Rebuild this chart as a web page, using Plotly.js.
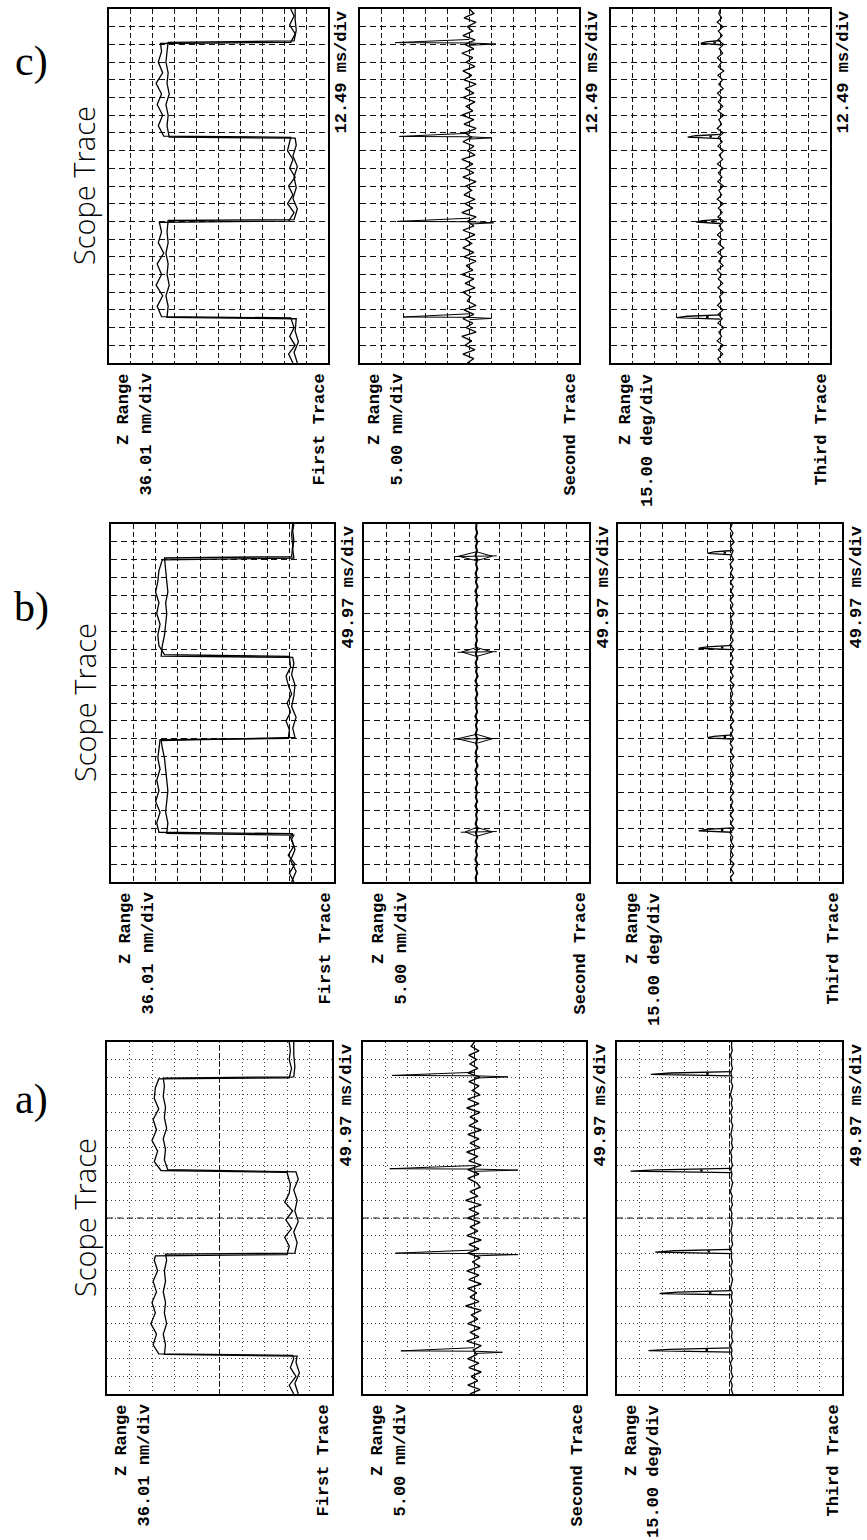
<!DOCTYPE html>
<html><head><meta charset="utf-8">
<script src="https://cdn.plot.ly/plotly-3.0.1.min.js"></script>
<style>html,body{margin:0;padding:0;background:#fff}</style>
</head><body><div id="chart" style="width:867px;height:1540px"></div>
<script>
// ---------- DATA (time in divisions, signal in divisions) ----------
const sampleT = [0,0.25,0.5,0.75,1,1.25,1.5,1.75,2,2.25,2.5,2.75,3,3.25,3.5,3.75,4,4.25,4.5,4.75,
 5,5.25,5.5,5.75,6,6.25,6.5,6.75,7,7.25,7.5,7.75,8,8.25,8.5,8.75,9,9.25,9.5,9.75,
 10,10.25,10.5,10.75,11,11.25,11.5,11.75,12,12.25,12.5,12.75,13,13.25,13.5,13.75,14,14.25,14.5,14.75,
 15,15.25,15.5,15.75,16,16.25,16.5,16.75,17,17.25,17.5,17.75,18,18.25,18.5,18.75,19,19.25,19.5,19.75,20];

// First traces (height): trace and retrace
const c1_tA = [0,0.5,1.0,1.5,2.0,2.55, 2.62,3.2,3.8,4.4,5.0,5.6,6.2,6.8,7.4,7.95, 8.02,8.5,9.0,9.5,10.0,10.5,11.0,11.5,12.0,12.75, 12.82,13.4,14.0,14.6,15.2,15.8,16.4,17.0,17.6,18.05, 18.12,18.6,19.1,19.6,20];
const c1_sA = [1.6,1.8,1.5,1.75,1.55,1.7, 7.6,7.8,7.55,7.85,7.6,7.8,7.5,7.75,7.6,7.7, 1.8,1.55,1.85,1.6,1.8,1.5,1.75,1.6,1.85,1.7, 7.5,7.75,7.55,7.8,7.6,7.85,7.55,7.75,7.6,7.65, 1.7,1.5,1.75,1.55,1.7];
const c1_tB = [0,0.6,1.2,1.8,2.5, 2.58,3.2,3.8,4.4,5.0,5.6,6.2,6.8,7.4,8.05, 8.1,8.7,9.3,9.9,10.5,11.1,11.7,12.3,12.7, 12.76,13.4,14.0,14.6,15.2,15.8,16.4,17.0,17.6,18.12, 18.2,18.8,19.4,20];
const c1_sB = [1.4,1.55,1.35,1.5,1.45, 7.35,7.3,7.4,7.25,7.35,7.3,7.4,7.3,7.35,7.3, 1.55,1.4,1.6,1.45,1.55,1.4,1.6,1.45,1.5, 7.25,7.35,7.3,7.4,7.25,7.35,7.3,7.4,7.35,7.3, 1.55,1.45,1.5,1.5];

const b1_tA = [0,0.5,1.0,1.5,2.0,2.5,2.7, 2.78,3.3,3.9,4.5,5.1,5.7,6.3,6.9,7.5,7.95, 8.02,8.5,9.0,9.5,10.0,10.5,11.0,11.5,12.0,12.6, 12.7,13.2,13.8,14.4,15.0,15.6,16.2,16.8,17.4,18.0, 18.1,18.6,19.1,19.6,20];
const b1_sA = [1.8,2.0,1.75,2.05,1.8,1.95,1.85, 7.85,7.95,7.8,8.0,7.85,7.95,7.8,7.9,7.85,7.8, 2.05,2.0,2.15,1.95,2.1,1.9,2.05,2.15,1.95,2.0, 7.6,7.85,7.9,7.8,7.95,7.85,8.0,7.9,7.85,7.7, 1.8,1.85,1.8,1.85,1.8];
const b1_tB = [0,0.6,1.2,1.8,2.4,2.62, 2.72,3.3,3.9,4.5,5.1,5.7,6.3,6.9,7.5,7.9, 8.08,8.6,9.2,9.8,10.4,11.0,11.6,12.2,12.55, 12.62,13.2,13.8,14.4,15.0,15.6,16.2,16.8,17.4,18.1, 18.18,18.8,19.4,20];
const b1_sB = [1.9,1.7,1.95,1.75,1.9,1.8, 7.5,7.45,7.55,7.5,7.45,7.5,7.55,7.6,7.7,7.75, 1.75,1.85,1.7,1.9,1.8,1.75,1.9,1.8,1.85, 7.75,7.7,7.6,7.55,7.5,7.55,7.45,7.5,7.55,7.6, 1.9,1.85,1.9,1.85];

const a1_tA = [0,0.5,1.0,1.5,2.0,2.2, 2.28,2.8,3.4,4.0,4.6,5.2,5.8,6.4,7.0,7.6,7.85, 7.92,8.4,8.9,9.4,9.9,10.4,10.9,11.4,11.9,12.6, 12.7,13.2,13.8,14.4,15.0,15.6,16.2,16.8,17.4,17.9, 17.97,18.5,19.0,19.5,20];
const a1_sA = [1.7,1.9,1.6,1.85,1.7,1.75, 7.7,7.95,7.8,8.05,7.85,8.0,7.8,7.95,7.75,7.9,7.85, 2.0,1.9,2.1,1.8,2.05,1.75,2.1,1.9,1.85,2.0, 7.6,7.9,7.75,8.0,7.8,7.95,7.7,7.9,7.85,7.7, 1.9,1.8,1.9,1.85,1.9];
const a1_tB = [0,0.6,1.2,1.8,2.15, 2.25,2.8,3.4,4.0,4.6,5.2,5.8,6.4,7.0,7.6,7.95, 8.0,8.6,9.2,9.8,10.4,11.0,11.6,12.2,12.62, 12.75,13.3,13.9,14.5,15.1,15.7,16.3,16.9,17.5,17.95, 18.02,18.6,19.3,20];
const a1_sB = [1.5,1.65,1.45,1.6,1.55, 7.45,7.4,7.5,7.35,7.45,7.4,7.5,7.4,7.45,7.35,7.4, 1.65,1.55,1.7,1.5,1.65,1.55,1.7,1.5,1.6, 7.3,7.45,7.4,7.5,7.35,7.45,7.4,7.5,7.45,7.5, 1.7,1.65,1.7,1.7];

// Second traces (deflection) baselines, sampled at sampleT
const c2_base = [5.1,4.8,5.3,4.75,5.2,4.9,5.35,4.7,5.15,4.85, 5.3,4.8,5.25,4.7,5.1,4.95,5.3,4.75,5.2,4.8,
 5.35,4.85,5.15,4.7,5.25,4.8,5.3,4.9,5.2,4.75, 5.3,4.8,5.1,4.7,5.35,4.85,5.2,4.75,5.25,4.9,
 5.15,4.7,5.3,4.8,5.2,4.85,5.35,4.75,5.1,4.8, 5.3,4.9,5.2,4.7,5.25,4.8,5.35,4.85,5.15,4.75,
 5.3,4.8,5.2,4.7,5.25,4.9,5.3,4.75,5.15,4.85, 5.35,4.8,5.2,4.75,5.3,4.85,5.1,4.7,5.25,4.8, 5.0];
const b2_base = [5.0,5.04,4.97,5.03,4.96,5.05,4.98,5.02,4.96,5.04, 4.97,5.03,4.95,5.04,4.98,5.02,4.96,5.05,4.97,5.03,
 4.98,5.04,4.96,5.02,4.97,5.05,4.95,5.03,4.98,5.04, 4.96,5.02,4.97,5.04,4.98,5.03,4.96,5.05,4.97,5.02,
 4.98,5.04,4.96,5.03,4.97,5.05,4.95,5.02,4.98,5.04, 4.96,5.03,4.97,5.04,4.98,5.02,4.96,5.05,4.97,5.03,
 4.98,5.04,4.96,5.02,4.97,5.05,4.95,5.03,4.98,5.04, 4.96,5.02,4.97,5.04,4.98,5.03,4.96,5.05,4.97,5.02, 5.0];
const a2_base = [5.2,4.75,5.3,4.85,5.15,4.7,5.25,4.8,5.3,4.9, 5.05,4.7,5.35,4.8,5.2,4.75,5.3,4.85,5.15,4.7,
 5.4,4.8,5.2,4.9,5.3,4.7,5.25,4.8,5.35,4.75, 5.1,4.75,5.3,4.8,5.25,4.7,5.35,4.85,5.2,4.75,
 5.3,4.8,5.25,4.7,5.4,4.85,5.2,4.75,4.9,5.3, 4.8,5.3,4.7,5.25,4.85,5.35,4.75,5.2,4.8,5.3,
 4.7,5.25,4.85,5.2,4.75,5.35,4.8,5.3,4.75,5.1, 4.8,5.25,4.75,5.3,4.85,5.2,4.9,5.25,4.8,5.15, 5.0];

// Third traces (phase) baselines
const c3_base = [5.0,5.12,4.9,5.1,4.88,5.15,4.95,5.08,4.85,5.12, 4.92,5.1,4.88,5.14,4.95,5.05,4.86,5.12,4.9,5.1,
 4.95,5.15,4.88,5.08,4.9,5.12,4.85,5.1,4.95,5.14, 4.9,5.06,4.86,5.12,4.92,5.1,4.88,5.15,4.95,5.08,
 4.87,5.12,4.93,5.1,4.88,5.14,4.9,5.06,4.85,5.12, 4.92,5.1,4.88,5.15,4.95,5.08,4.86,5.12,4.9,5.1,
 4.94,5.14,4.88,5.08,4.9,5.12,4.85,5.1,4.95,5.14, 4.9,5.06,4.86,5.12,4.92,5.1,4.88,5.15,4.95,5.08, 5.0];
const b3_base = [4.9,4.98,4.84,4.96,4.82,5.0,4.86,4.97,4.83,4.95, 4.88,5.0,4.82,4.96,4.86,4.99,4.84,4.95,4.88,4.98,
 4.83,4.96,4.87,5.0,4.84,4.95,4.86,4.98,4.82,4.97, 4.88,4.99,4.84,4.95,4.87,4.98,4.83,4.96,4.86,5.0,
 4.84,4.97,4.88,4.95,4.82,4.99,4.86,4.96,4.84,4.98, 4.87,4.95,4.83,5.0,4.86,4.97,4.84,4.96,4.88,4.98,
 4.82,4.95,4.87,4.99,4.84,4.96,4.86,4.98,4.83,4.97, 4.88,5.0,4.84,4.95,4.86,4.98,4.82,4.96,4.87,4.99, 4.9];
const a3_base = [4.85,4.92,4.88,4.95,4.86,4.93,4.9,4.96,4.87,4.92, 4.89,4.95,4.86,4.91,4.88,4.94,4.9,4.86,4.93,4.89,
 4.95,4.87,4.92,4.88,4.96,4.9,4.86,4.93,4.89,4.94, 4.87,4.92,4.9,4.95,4.86,4.91,4.88,4.94,4.9,4.87,
 4.93,4.89,4.95,4.87,4.92,4.88,4.96,4.9,4.86,4.93, 4.89,4.94,4.87,4.92,4.9,4.95,4.86,4.91,4.88,4.94,
 4.9,4.86,4.93,4.89,4.95,4.87,4.92,4.88,4.96,4.9, 4.86,4.93,4.89,4.94,4.87,4.92,4.9,4.95,4.88,4.91, 4.9];

// Spikes: time, left tip, right tip
const c2_spikeT = [2.6,8.0,12.8,18.1], c2_spikeL = [8.0,8.3,8.2,8.4], c2_spikeR = [4.0,3.9,4.0,3.8];
const b2_spikeT = [2.8,8.0,12.85,18.2], b2_spikeL = [5.5,5.85,5.65,5.8], b2_spikeR = [4.3,4.3,4.3,4.3];
const a2_spikeT = [2.45,8.0,12.8,18.1], a2_spikeL = [8.3,8.55,8.8,8.7], a2_spikeR = [3.75,3.05,3.05,3.5];
const c3_spikeT = [2.6,8.0,12.8,18.1], c3_spikeL = [7.0,6.1,6.5,5.9];
const b3_spikeT = [2.9,8.1,13.1,18.4], b3_spikeL = [6.4,6.0,6.4,6.0];
const a3_spikeT = [2.5,5.75,8.1,12.7,18.2], a3_spikeL = [8.6,8.1,8.3,9.4,8.5];

// Labels
const panelNames = ['c)','b)','a)'];
const timeScales = ['12.49 ms/div','49.97 ms/div','49.97 ms/div'];
const zRanges = ['36.01 nm/div','5.00 nm/div','15.00 deg/div'];
const traceNames = ['First Trace','Second Trace','Third Trace'];

// ---------- LAYOUT ----------
const W=867,H=1540;
const panels = [
 {T:9,   B:363,  boxes:[[109,328],[360,579],[611,830]], grid:'dash'},
 {T:524, B:882,  boxes:[[111,334],[364,589],[618,842]], grid:'dash'},
 {T:1042,B:1394, boxes:[[107,332],[363,586],[617,842]], grid:'dot'}
];
const px = x => x/W, py = y => 1 - y/H;

const layout = {width:W,height:H,margin:{l:0,r:0,t:0,b:0},paper_bgcolor:'#fff',plot_bgcolor:'#fff',
  showlegend:false,annotations:[],shapes:[]};
const data = [];

function addLine(n, t, s, w){
  data.push({type:'scatter',mode:'lines',x:s,y:t,xaxis:'x'+(n===1?'':n),yaxis:'y'+(n===1?'':n),
    line:{color:'#000',width:w||1.3},hoverinfo:'skip'});
}
function loopSpikes(n, T, L, R, base){
  T.forEach((t0,i)=>{
    addLine(n,[t0-0.15,t0-0.08,t0-0.02,t0,t0+0.1,t0+0.18],[base,R[i],base,L[i],base+(L[i]-base)*0.45,base],1);
  });
}
function diamondSpikes(n, T, L, R, base){
  T.forEach((t0,i)=>{
    addLine(n,[t0-0.25,t0,t0+0.25,t0,t0-0.25],[base,L[i],base,R[i],base],1);
    addLine(n,[t0-0.02,t0+0.02],[L[i]+0.2,R[i]-0.2],1);
  });
}
function pulseSpikes(n, T, L, base){
  T.forEach((t0,i)=>{
    addLine(n,[t0-0.12,t0-0.04,t0+0.04,t0+0.12],[base,L[i],L[i]-0.25*(L[i]-base),base],1.3);
    addLine(n,[t0-0.06,t0+0.06],[base+0.3*(L[i]-base),base+0.3*(L[i]-base)],2.5);
  });
}

panels.forEach((p,pi)=>{
  p.boxes.forEach((b,bi)=>{
    const n = pi*3+bi+1;
    const sx = n===1?'':n;
    const dashX = p.grid==='dash' ? '5px,3px' : '1px,3px';
    const dashY = p.grid==='dash' ? '6px,4px' : '1px,3px';
    const gcol = p.grid==='dash' ? '#111' : '#444';
    layout['xaxis'+sx] = {domain:[px(b[0]),px(b[1])],range:[10,0],tick0:0,dtick:1,showgrid:true,
      gridcolor:gcol,gridwidth:1,griddash:dashX,showline:true,mirror:true,linecolor:'#000',linewidth:1.6,
      ticks:'',showticklabels:false,zeroline:false,anchor:'y'+sx,fixedrange:true};
    layout['yaxis'+sx] = {domain:[py(p.B),py(p.T)],range:[0,20],tick0:0,dtick:1,showgrid:true,
      gridcolor:gcol,gridwidth:1,griddash:dashY,showline:true,mirror:true,linecolor:'#000',linewidth:1.6,
      ticks:'',showticklabels:false,zeroline:false,anchor:'x'+sx,fixedrange:true};
    if(p.grid==='dot'){
      layout.shapes.push({type:'line',xref:'x'+sx+' domain',yref:'y'+sx+' domain',x0:0.5,x1:0.5,y0:0,y1:1,
        line:{color:'#111',width:1,dash:'5px,3px'}});
      layout.shapes.push({type:'line',xref:'x'+sx+' domain',yref:'y'+sx+' domain',x0:0,x1:1,y0:0.5,y1:0.5,
        line:{color:'#111',width:1,dash:'6px,4px'}});
    }
    const mono = {family:'Liberation Mono, DejaVu Sans Mono, monospace',size:17,color:'#000',weight:'bold'};
    const common = {xref:'paper',yref:'paper',showarrow:false,textangle:-90,xanchor:'center',yanchor:'top',borderpad:0,font:mono};
    layout.annotations.push(Object.assign({},common,{text:'Z Range',x:px(b[0]+14.5),y:py(p.B+10)}));
    layout.annotations.push(Object.assign({},common,{text:zRanges[bi],x:px(b[0]+36.5),y:py(p.B+10)}));
    layout.annotations.push(Object.assign({},common,{text:traceNames[bi],x:px(b[1]-9.5),y:py(p.B+10)}));
    layout.annotations.push(Object.assign({},common,{text:timeScales[pi],x:px(b[1]+13.5),y:py(p.T+2)}));
  });
  layout.annotations.push({xref:'paper',yref:'paper',showarrow:false,text:panelNames[pi],x:px(31),y:py(p.T+(pi===0?53:(pi===1?83:57))),
    xanchor:'center',yanchor:'middle',font:{family:'Liberation Serif, serif',size:42,color:'#000'}});
  layout.annotations.push({xref:'paper',yref:'paper',showarrow:false,text:'Scope Trace',textangle:-90,
    x:px(84),y:py((p.T+p.B)/2),xanchor:'center',yanchor:'middle',font:{family:'Open Sans, sans-serif',size:29,color:'#000',weight:300}});
});

// traces
addLine(1,c1_tA,c1_sA); addLine(1,c1_tB,c1_sB);
addLine(2,sampleT,c2_base,1.3); loopSpikes(2,c2_spikeT,c2_spikeL,c2_spikeR,5.0);
addLine(3,sampleT,c3_base,1.2); pulseSpikes(3,c3_spikeT,c3_spikeL,5.0);
addLine(4,b1_tA,b1_sA); addLine(4,b1_tB,b1_sB);
addLine(5,sampleT,b2_base,2); diamondSpikes(5,b2_spikeT,b2_spikeL,b2_spikeR,5.0);
addLine(6,sampleT,b3_base,1.3); pulseSpikes(6,b3_spikeT,b3_spikeL,4.9);
addLine(7,a1_tA,a1_sA); addLine(7,a1_tB,a1_sB);
addLine(8,sampleT,a2_base,1.4); loopSpikes(8,a2_spikeT,a2_spikeL,a2_spikeR,5.0);
addLine(9,sampleT,a3_base,1.3); pulseSpikes(9,a3_spikeT,a3_spikeL,4.9);

Plotly.newPlot('chart',data,layout,{staticPlot:true,displayModeBar:false});
</script></body></html>
